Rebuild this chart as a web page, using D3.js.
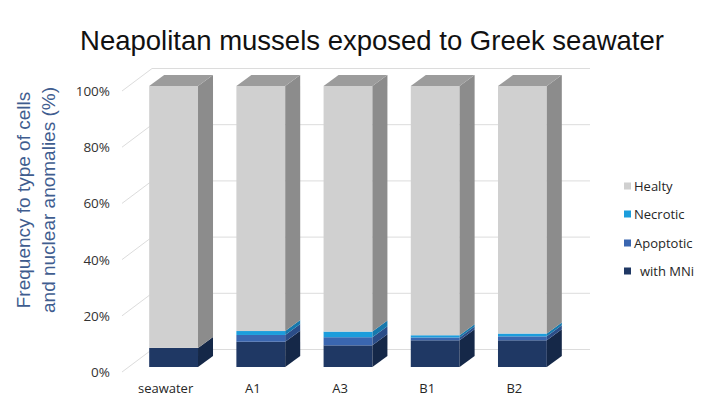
<!DOCTYPE html>
<html>
<head>
<meta charset="utf-8">
<script src="https://cdn.jsdelivr.net/npm/d3@7"></script>
<style>
  html, body { margin: 0; padding: 0; background: #ffffff; }
  svg { display: block; }
</style>
</head>
<body>
<svg id="chart" width="704" height="398"></svg>
<script>
// Categories and stacked series (percent of cells per sample)
const categories = ["seawater", "A1", "A3", "B1", "B2"];
const withMNi   = [6.8, 9.0, 7.7, 9.5, 9.5];
const apoptotic = [0.0, 2.4, 2.9, 1.0, 1.4];
const necrotic  = [0.0, 1.4, 2.0, 0.8, 1.0];
const healty    = [93.2, 87.2, 87.4, 88.7, 88.1];
const yTicks = [0, 20, 40, 60, 80, 100];
const seriesNames = ["with MNi", "Apoptotic", "Necrotic", "Healty"];

const colors = {
  "with MNi":  { front: "#1f3864", side: "#152848", top: "#2a4778" },
  "Apoptotic": { front: "#3a66b0", side: "#2b4d88", top: "#4a78c2" },
  "Necrotic":  { front: "#1c9ddc", side: "#1679ad", top: "#3db0e6" },
  "Healty":    { front: "#d0d0d0", side: "#8c8c8c", top: "#9c9c9c" }
};

const rows = categories.map((c, i) => ({
  cat: c,
  "with MNi": withMNi[i],
  "Apoptotic": apoptotic[i],
  "Necrotic": necrotic[i],
  "Healty": healty[i]
}));

const svg = d3.select("#chart");

const x = d3.scaleBand().domain(categories).range([130, 566])
  .paddingInner(0.44).paddingOuter(0.22);
const y = d3.scaleLinear().domain([0, 100]).range([367, 86]);

// 3D offsets: bar depth and wall depth
const bdx = 15, bdy = -11;
const wallX0 = 122, wallX1 = 152, wallRight = 590;

// Walls: back gridlines and side-wall diagonals
const grid = svg.append("g").attr("stroke", "#dcdcdc").attr("stroke-width", 1).attr("fill", "none");
yTicks.forEach(v => {
  grid.append("line")
    .attr("x1", wallX1).attr("x2", wallRight)
    .attr("y1", y(v) - 17.5).attr("y2", y(v) - 17.5);
  grid.append("line")
    .attr("x1", wallX0).attr("y1", y(v) + 5)
    .attr("x2", wallX1).attr("y2", y(v) - 17.5);
});

// Y tick labels
svg.append("g").selectAll("text").data(yTicks).join("text")
  .attr("x", 110).attr("y", d => y(d) + 5)
  .attr("text-anchor", "end").attr("dominant-baseline", "central")
  .attr("font-family", "'Open Sans', sans-serif").attr("font-size", 13.5)
  .attr("fill", "#333333")
  .text(d => d + "%");

// Stacked 3D bars
const stack = d3.stack().keys(seriesNames)(rows);
const bars = svg.append("g");
stack.forEach(layer => {
  const key = layer.key;
  const col = colors[key];
  layer.forEach((seg, i) => {
    const y0 = y(seg[0]), y1 = y(seg[1]);
    if (Math.abs(y0 - y1) < 0.01) return;
    const xl = x(seg.data.cat), xr = xl + x.bandwidth();
    const g = bars.append("g");
    g.append("rect")
      .attr("x", xl).attr("y", y1).attr("width", x.bandwidth()).attr("height", y0 - y1)
      .attr("fill", col.front);
    g.append("path")
      .attr("d", `M${xr},${y0}L${xr + bdx},${y0 + bdy}L${xr + bdx},${y1 + bdy}L${xr},${y1}Z`)
      .attr("fill", col.side);
    if (key === seriesNames[seriesNames.length - 1]) {
      g.append("path")
        .attr("d", `M${xl},${y1}L${xl + bdx},${y1 + bdy}L${xr + bdx},${y1 + bdy}L${xr},${y1}Z`)
        .attr("fill", col.top);
    }
  });
});

// Category labels
svg.append("g").selectAll("text").data(categories).join("text")
  .attr("x", d => x(d) + x.bandwidth() / 2 - 8).attr("y", 393)
  .attr("text-anchor", "middle")
  .attr("font-family", "'Open Sans', sans-serif").attr("font-size", 13)
  .attr("fill", "#262626")
  .text(d => d);

// Title
svg.append("text")
  .attr("x", 372).attr("y", 50).attr("text-anchor", "middle")
  .attr("font-family", "'Liberation Sans', Arial, sans-serif").attr("font-size", 27.5)
  .attr("fill", "#111111")
  .text("Neapolitan mussels exposed to Greek seawater");

// Y axis title (two lines)
const yt = svg.append("text")
  .attr("transform", "translate(0,200) rotate(-90)")
  .attr("text-anchor", "middle")
  .attr("font-family", "'Liberation Sans', Arial, sans-serif").attr("font-size", 19)
  .attr("fill", "#3f5d8f");
yt.append("tspan").attr("x", 0).attr("y", 30).text("Frequency fo type of cells");
yt.append("tspan").attr("x", 0).attr("y", 55).text("and nuclear anomalies (%)");

// Legend
const legendItems = ["Healty", "Necrotic", "Apoptotic", "with MNi"];
const legendY = [186, 214, 243, 271];
const lg = svg.append("g");
legendItems.forEach((name, i) => {
  lg.append("rect").attr("x", 624).attr("y", legendY[i] - 3.5).attr("width", 7).attr("height", 7)
    .attr("fill", colors[name].front);
  lg.append("text")
    .attr("x", name === "with MNi" ? 640 : 634).attr("y", legendY[i])
    .attr("dominant-baseline", "central")
    .attr("font-family", "'Open Sans', sans-serif").attr("font-size", 13)
    .attr("fill", "#262626")
    .text(name);
});
</script>
</body>
</html>
